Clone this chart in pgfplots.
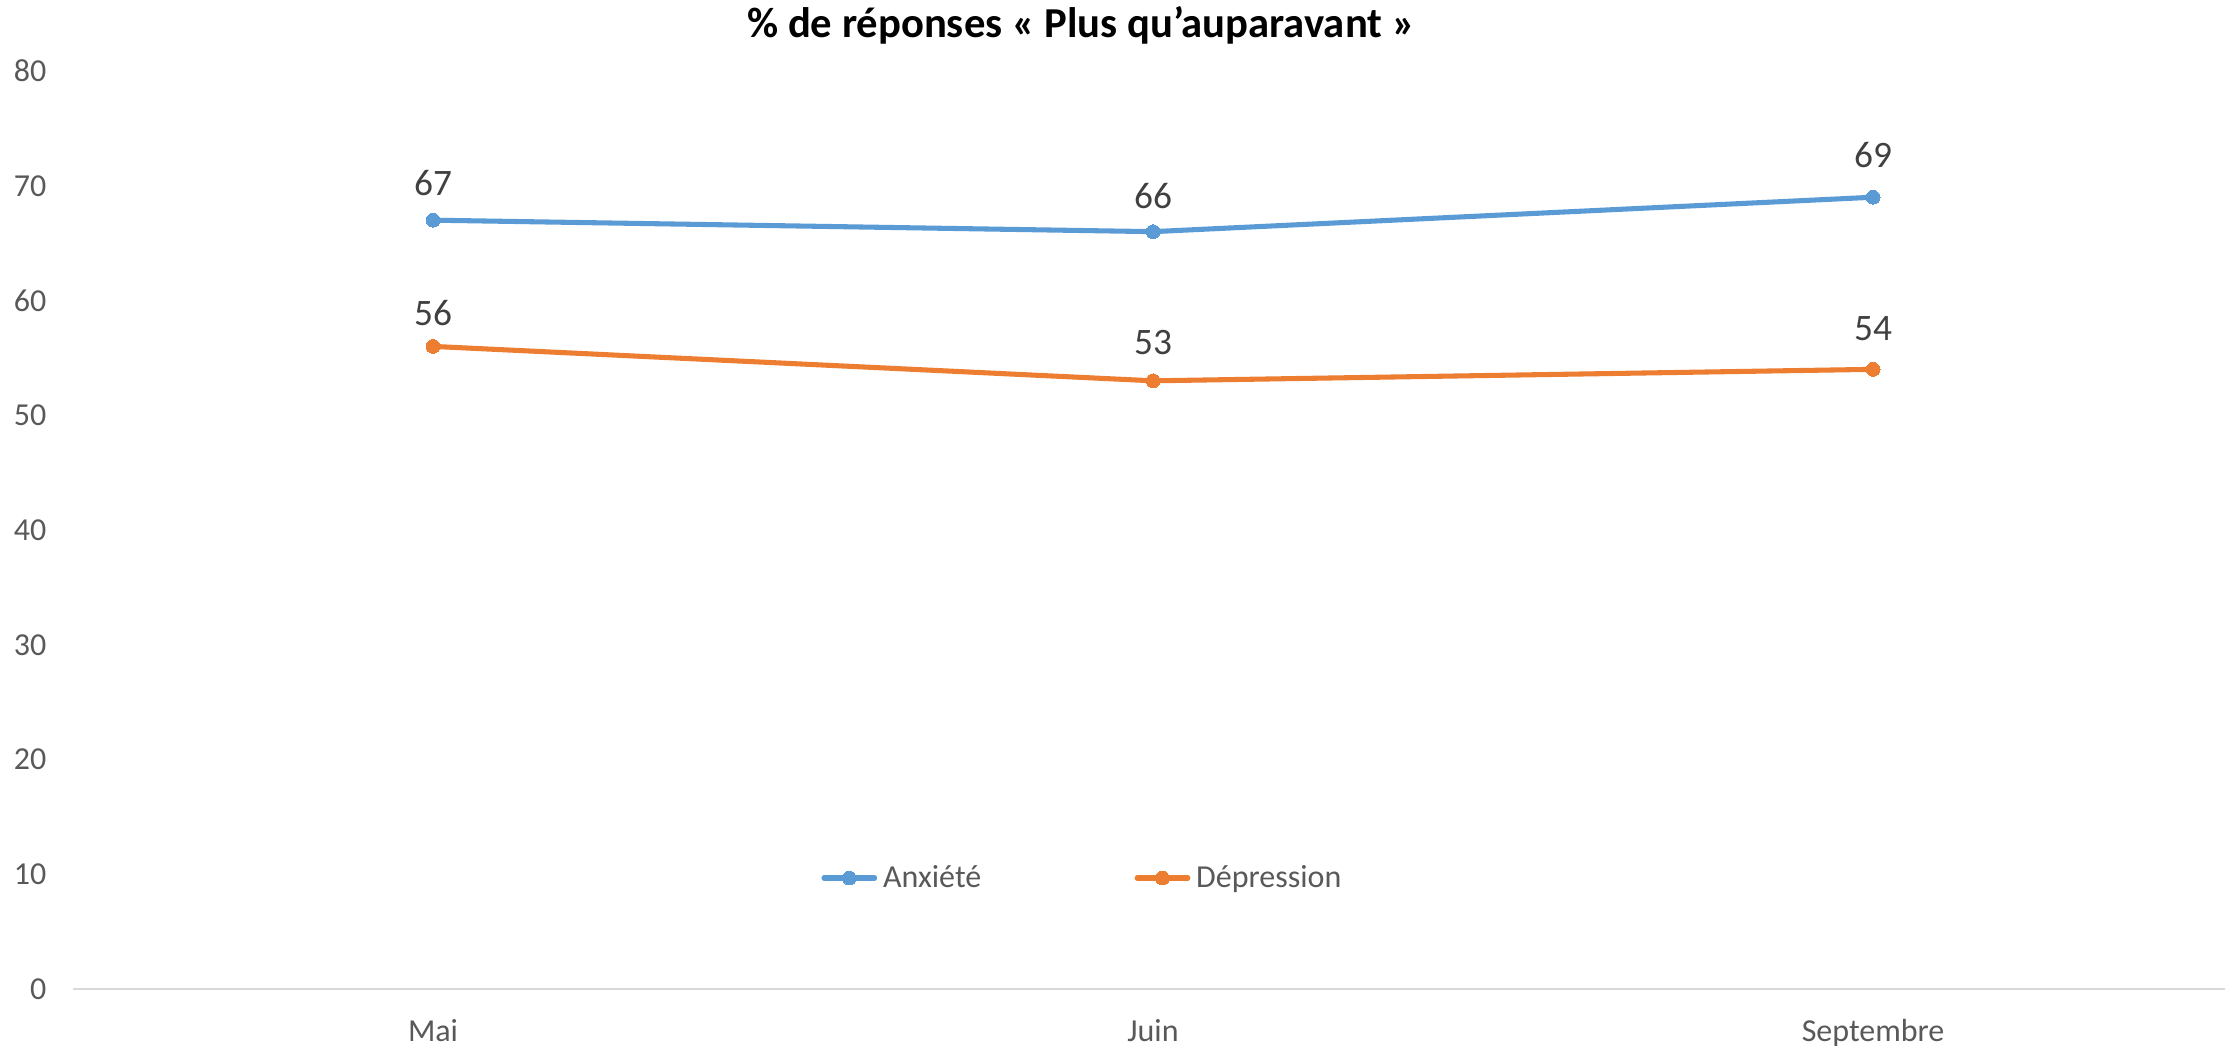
\documentclass[border=0pt]{standalone}
\usepackage{pgfplots}
\pgfplotsset{compat=1.18}
\usepackage{fontspec}
\setmainfont{Carlito}
\definecolor{cblue}{HTML}{5B9BD5}
\definecolor{corange}{HTML}{ED7D31}
\definecolor{ticktxt}{HTML}{595959}
\definecolor{lbltxt}{HTML}{404040}
\definecolor{axgray}{HTML}{D9D9D9}
\begin{document}
\begin{tikzpicture}
\useasboundingbox (0,0) rectangle (834.375pt,392.25pt);
\node[anchor=base, font=\fontsize{16}{18}\selectfont\bfseries] at (405.4pt,378pt) {\% de réponses « Plus qu’auparavant »};
\begin{axis}[
  at={(27.4pt,21.375pt)}, anchor=south west,
  scale only axis, width=810pt, height=344.25pt,
  xmin=-0.5, xmax=2.5, ymin=0, ymax=80,
  xtick={0,1,2}, xticklabels={Mai,Juin,Septembre},
  ytick={0,10,...,80},
  major tick length=0pt,
  axis lines*=left,
  x axis line style={axgray, line width=0.9pt},
  y axis line style={draw=none},
  tick label style={font=\fontsize{12}{14}\selectfont, text=ticktxt, /pgf/number format/assume math mode=true},
  xticklabel style={anchor=north, inner sep=0pt, yshift=-11.2pt},
  yticklabel style={anchor=east, inner sep=0pt, xshift=-9.8pt},
  clip=false,
  legend columns=2,
  legend style={draw=none, fill=none, inner sep=0pt, at={(rel axis cs:0.3462,0.1209)}, anchor=west,
    font=\fontsize{12}{14}\selectfont, text=ticktxt,
    nodes={inner sep=0pt},
    /tikz/every odd column/.append style={column sep=2.2pt},
    /tikz/every even column/.append style={column sep=57.5pt}},
  legend image code/.code={\draw[mark repeat=2,mark phase=2,#1] plot coordinates {(0pt,0pt) (9.5pt,0pt) (19pt,0pt)};},
  nodes near coords={\pgfmathprintnumber[assume math mode=true]{\pgfplotspointmeta}},
  point meta=explicit,
  visualization depends on={\thisrow{off} \as \off},
  every node near coord/.append style={anchor=south, inner sep=0pt, yshift=\off pt, font=\fontsize{14}{16}\selectfont, text=lbltxt},
]
\addplot[cblue, line width=1.9pt, line cap=round, mark=*, mark size=2.6pt, mark options={solid, fill=cblue, draw=cblue, line width=0pt}]
  table[x=x, y=y, meta=y] {
x y off
0 67 9.1
1 66 8.7
2 69 11.0
};
\addlegendentry{Anxiété}
\addplot[corange, line width=1.9pt, line cap=round, mark=*, mark size=2.6pt, mark options={solid, fill=corange, draw=corange, line width=0pt}]
  table[x=x, y=y, meta=y] {
x y off
0 56 7.6
1 53 9.9
2 54 10.6
};
\addlegendentry{Dépression}
\end{axis}
\end{tikzpicture}
\end{document}
